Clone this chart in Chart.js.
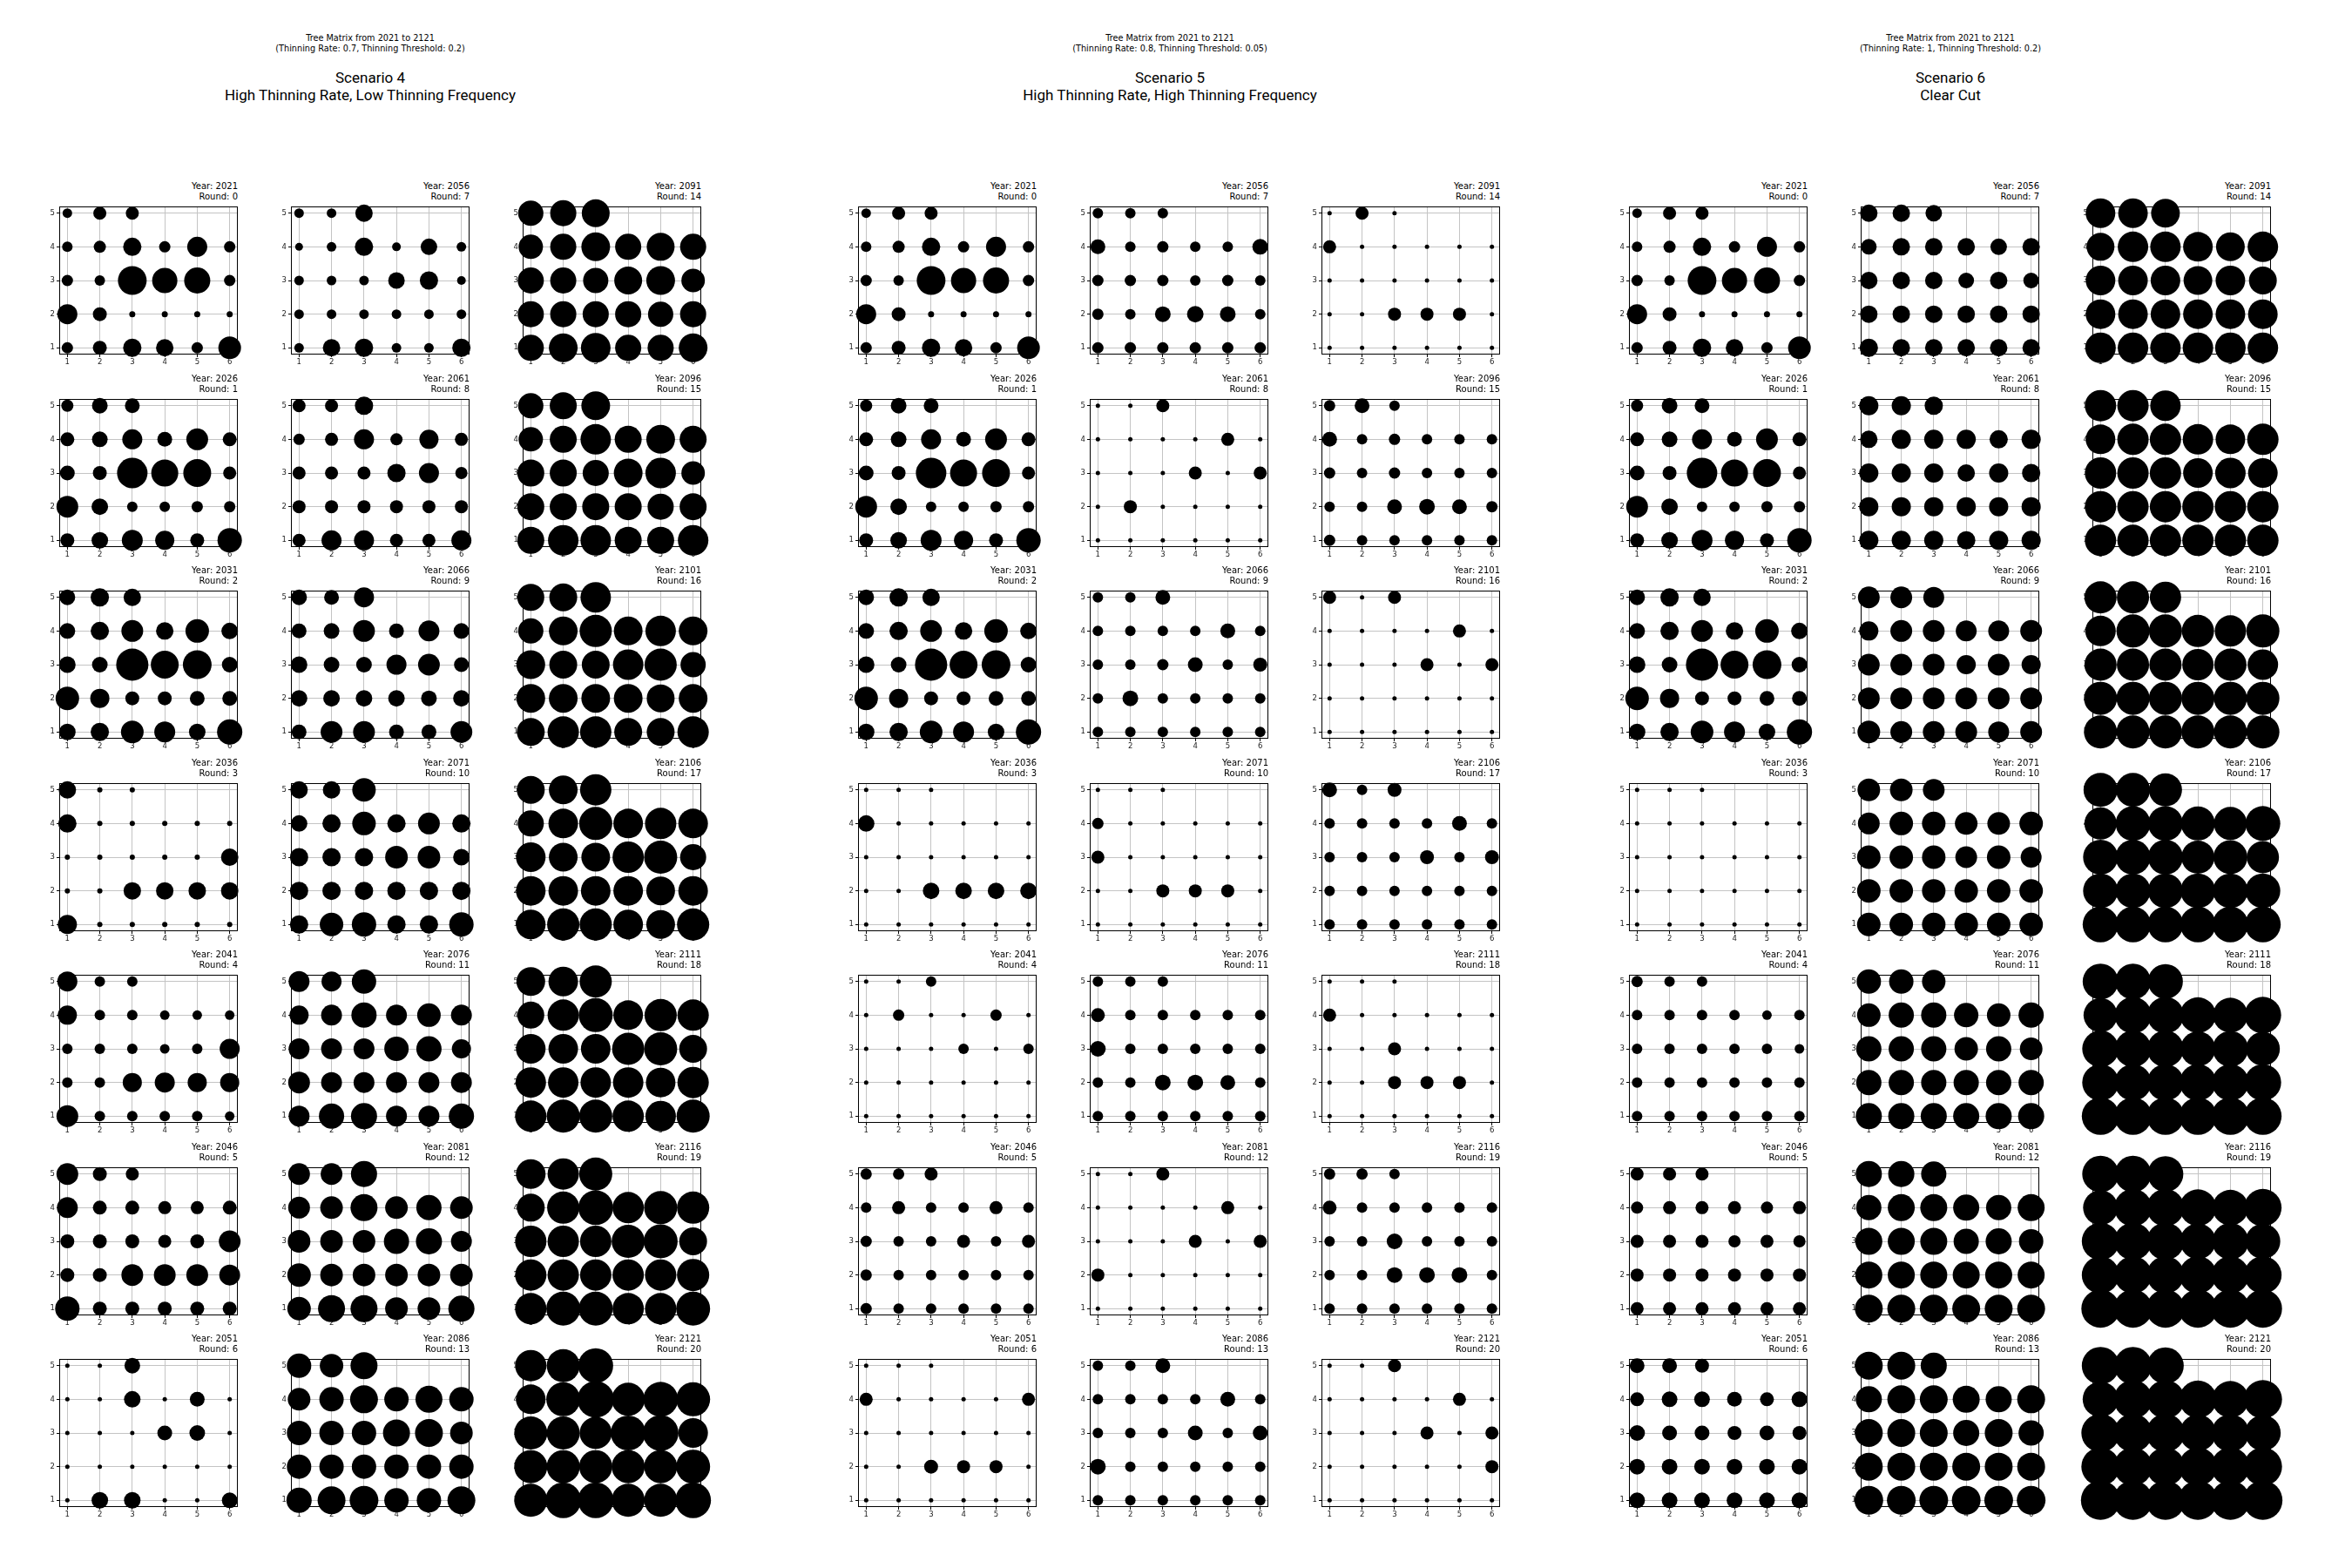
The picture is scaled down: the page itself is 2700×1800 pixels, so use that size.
<!DOCTYPE html>
<html>
<head>
<meta charset="utf-8">
<script src="https://cdn.jsdelivr.net/npm/chart.js@4.4.1/dist/chart.umd.min.js"></script>
<style>
html,body{margin:0;padding:0;background:#fff;}
#root{position:relative;width:2700px;height:1800px;overflow:hidden;background:#fff;}
.t{position:absolute;white-space:nowrap;color:#000;}
.sup{font-family:'DejaVu Sans',sans-serif;font-size:9.7px;line-height:11px;text-align:center;transform:translateX(-50%);}
.main{font-family:Roboto,sans-serif;font-size:17px;line-height:20px;text-align:center;transform:translateX(-50%);}
.sub{font-family:'DejaVu Sans',sans-serif;font-size:10px;line-height:12px;text-align:right;transform:translateX(-100%);}
canvas{position:absolute;}
</style>
</head>
<body>
<div id="root"></div>
<script>
// ---------- data ----------
const treeX = [1,2,3, 1,2,3,4,5,6, 1,2,3,4,5,6, 1,2,3,4,5,6, 1,2,3,4,5,6];
const treeY = [5,5,5, 4,4,4,4,4,4, 3,3,3,3,3,3, 2,2,2,2,2,2, 1,1,1,1,1,1];
const xTicks = [1,2,3,4,5,6];
const yTicks = [1,2,3,4,5];
const years  = [2021,2026,2031,2036,2041,2046,2051,2056,2061,2066,2071,2076,2081,2086,2091,2096,2101,2106,2111,2116,2121];
const rounds = [0,1,2,3,4,5,6,7,8,9,10,11,12,13,14,15,16,17,18,19,20];

const scenarioNames = ["Scenario 4","Scenario 5","Scenario 6"];
const scenarioDesc  = ["High Thinning Rate, Low Thinning Frequency","High Thinning Rate, High Thinning Frequency","Clear Cut"];
const scenarioParams = ["(Thinning Rate: 0.7, Thinning Threshold: 0.2)","(Thinning Rate: 0.8, Thinning Threshold: 0.05)","(Thinning Rate: 1, Thinning Threshold: 0.2)"];

// tree crown diameters per round (order: row5 x1-3, row4 x1-6, row3, row2, row1)
const scenario4 = [
 [11,15,15, 12,14,21,13,23,13, 13,12,33,29,30,13, 23,16,7,7,7,7, 13,16,21,20,13,26],
 [14,18,17, 16,18,23,17,25,16, 17,16,35,31,32,15, 25,19,12,12,13,13, 16,19,24,22,16,28],
 [18,21,20, 18,21,25,20,27,19, 19,18,37,32,33,18, 27,22,16,16,17,17, 19,21,26,24,19,29],
 [20,6,6, 21,6,6,6,6,6, 6,6,6,6,6,20, 6,6,20,20,20,20, 22,6,6,6,6,6],
 [23,12,12, 22,12,12,11,11,11, 12,12,12,11,12,23, 12,12,22,23,22,22, 25,12,12,12,12,11],
 [25,16,15, 24,16,16,15,15,16, 16,16,16,15,16,25, 16,16,25,25,25,24, 28,16,16,16,16,16],
 [5,5,18, 5,5,19,5,17,5, 5,5,5,17,18,5, 5,5,5,5,5,5, 5,19,19,5,5,18],
 [11,11,20, 9,11,21,10,19,11, 11,11,11,19,21,10, 11,11,11,11,11,11, 11,20,21,11,11,21],
 [15,15,21, 13,15,23,14,22,15, 15,15,15,21,23,14, 15,15,15,15,15,15, 15,23,23,15,15,23],
 [18,17,23, 17,18,25,17,24,18, 19,18,18,23,25,17, 19,19,19,19,18,19, 17,25,25,17,17,25],
 [20,20,27, 19,21,27,21,25,21, 21,21,21,26,26,19, 21,21,21,21,21,21, 21,27,28,21,21,28],
 [24,23,28, 22,24,29,24,27,24, 24,24,24,28,29,22, 25,24,24,24,24,24, 24,29,30,24,24,29],
 [25,25,30, 25,26,31,26,29,26, 26,26,26,29,30,24, 27,26,26,26,26,26, 27,31,31,26,26,30],
 [28,27,31, 26,28,32,28,31,28, 28,28,28,31,32,26, 28,28,28,28,28,28, 29,32,33,28,28,32],
 [29,30,32, 28,30,33,30,32,30, 30,30,29,32,33,27, 30,30,30,30,29,30, 30,33,34,30,30,33],
 [29,31,33, 28,31,35,31,33,31, 31,31,30,33,35,27, 31,31,31,31,30,31, 31,35,35,31,31,35],
 [31,32,35, 29,33,37,33,35,33, 33,32,32,35,37,29, 33,33,33,33,32,33, 32,36,36,32,32,36],
 [32,33,36, 30,34,38,34,36,34, 34,33,33,36,38,30, 34,34,34,34,33,34, 34,37,37,34,33,37],
 [33,34,37, 31,36,39,34,37,36, 34,34,34,37,38,32, 35,35,35,35,34,36, 36,38,38,36,35,38],
 [34,36,38, 32,37,40,36,38,37, 36,36,36,38,39,32, 36,36,36,36,36,37, 36,39,39,36,36,39],
 [36,38,40, 34,39,42,38,40,39, 38,38,37,40,41,34, 38,38,38,38,38,39, 38,41,41,38,38,41]
];
const scenario5 = [
 [11,15,15, 12,14,21,13,23,13, 13,12,33,29,30,13, 23,16,7,7,7,7, 13,16,21,20,13,26],
 [14,18,17, 16,18,23,17,25,16, 17,16,35,31,32,15, 25,19,12,12,13,13, 16,19,24,22,16,28],
 [18,21,20, 18,21,25,20,27,19, 19,18,37,32,33,18, 27,22,16,16,17,17, 19,21,26,24,19,29],
 [5,5,5, 19,5,5,5,5,5, 5,5,5,5,5,5, 5,5,19,19,19,19, 5,5,5,5,5,5],
 [5,5,12, 5,13,5,5,13,5, 5,5,5,12,5,12, 5,5,5,5,5,5, 5,5,5,5,5,5],
 [13,13,15, 12,15,12,12,15,12, 13,12,12,15,12,15, 13,12,12,12,12,12, 13,12,12,12,12,12],
 [5,5,5, 15,5,5,5,5,15, 5,5,5,5,5,5, 5,5,16,15,15,5, 5,5,5,5,5,5],
 [12,12,12, 17,12,13,12,12,18, 13,13,13,12,13,12, 13,12,18,19,18,12, 13,13,13,13,13,13],
 [5,5,15, 5,5,5,5,15,5, 5,5,5,15,5,15, 5,15,5,5,5,5, 5,5,5,5,5,5],
 [12,12,17, 12,12,12,12,17,12, 12,12,13,17,12,16, 12,18,12,12,12,12, 12,12,12,12,12,12],
 [5,5,5, 13,5,5,5,5,5, 15,5,5,5,5,5, 5,5,15,15,15,5, 5,5,5,5,5,5],
 [12,12,12, 16,12,12,12,12,12, 18,12,12,12,12,12, 12,12,18,18,17,12, 12,12,12,12,12,12],
 [5,5,15, 5,5,5,5,15,5, 5,5,5,15,5,15, 15,5,5,5,5,5, 5,5,5,5,5,5],
 [12,12,17, 12,12,12,12,17,12, 12,12,12,17,12,17, 18,12,12,12,12,12, 12,12,12,12,12,12],
 [5,15,5, 15,5,5,5,5,5, 5,5,5,5,5,5, 5,5,15,15,15,5, 5,5,5,5,5,5],
 [13,17,12, 17,12,13,12,12,12, 13,12,13,12,12,12, 12,12,17,18,17,13, 13,12,12,12,12,12],
 [15,5,15, 5,5,5,5,15,5, 5,5,5,15,5,15, 5,5,5,5,5,5, 5,5,5,5,5,5],
 [17,12,16, 12,12,12,12,17,12, 12,12,12,16,12,16, 12,12,12,12,12,12, 12,12,12,12,12,12],
 [5,5,5, 15,5,5,5,5,5, 5,5,15,5,5,5, 5,5,15,15,15,5, 5,5,5,5,5,5],
 [13,13,12, 16,12,12,12,12,12, 12,12,18,12,12,12, 12,12,18,18,18,12, 12,12,12,12,12,12],
 [5,5,15, 5,5,5,5,15,5, 5,5,5,15,5,15, 5,5,5,5,5,15, 5,5,5,5,5,5]
];
const scenario6 = [
 [11,15,15, 12,14,21,13,23,13, 13,12,33,29,30,13, 23,16,7,7,7,7, 13,16,21,20,13,26],
 [14,18,17, 16,18,23,17,25,16, 17,16,35,31,32,15, 25,19,12,12,13,13, 16,19,24,22,16,28],
 [18,21,20, 18,21,25,20,27,19, 19,18,37,32,33,18, 27,22,16,16,17,17, 19,21,26,24,19,29],
 [5,5,5, 5,5,5,5,5,5, 5,5,5,5,5,5, 5,5,5,5,5,5, 5,5,5,5,5,5],
 [13,12,12, 12,12,12,12,11,12, 12,12,12,12,12,11, 12,12,12,12,12,12, 12,12,12,12,12,12],
 [15,15,15, 14,15,15,15,14,15, 15,15,15,14,15,14, 15,15,15,15,15,15, 15,15,15,15,15,15],
 [17,17,16, 16,18,18,17,16,18, 18,17,17,16,17,16, 18,18,18,18,18,18, 18,18,18,18,18,18],
 [20,20,19, 18,20,20,20,19,20, 20,20,20,18,20,18, 20,20,20,20,20,20, 21,20,20,20,20,20],
 [22,22,21, 20,22,22,22,21,22, 22,22,22,20,22,21, 22,22,22,22,22,22, 22,22,22,21,22,22],
 [25,25,24, 22,25,25,24,24,25, 25,25,25,22,25,22, 25,25,25,25,25,25, 26,25,25,25,24,25],
 [26,26,25, 25,27,27,26,26,27, 27,27,27,25,27,24, 27,27,27,27,27,27, 27,27,27,27,27,27],
 [28,28,27, 27,29,29,28,27,29, 29,29,29,27,29,26, 29,29,29,29,29,29, 30,30,30,30,30,30],
 [30,30,29, 29,31,31,30,29,31, 31,31,31,29,30,28, 31,31,31,31,31,31, 32,32,32,32,32,32],
 [32,32,30, 30,32,32,31,30,32, 32,32,32,30,32,29, 32,32,32,32,32,32, 33,33,33,33,33,33],
 [34,34,33, 32,35,35,34,33,35, 34,34,34,33,34,32, 34,34,34,34,34,34, 35,35,35,35,35,35],
 [36,36,35, 34,36,36,35,34,36, 36,36,36,34,35,34, 36,36,36,36,36,36, 36,36,36,36,36,36],
 [37,37,36, 35,38,38,37,36,38, 37,37,37,36,37,35, 38,38,38,38,38,38, 38,38,38,38,38,38],
 [39,39,38, 37,40,40,39,38,40, 40,40,40,38,39,37, 40,40,40,40,40,40, 41,41,41,41,41,41],
 [41,41,40, 39,42,42,41,40,42, 42,42,42,40,41,39, 42,42,42,42,42,42, 43,43,43,43,43,43],
 [42,42,41, 40,43,43,42,41,43, 43,43,43,41,42,40, 43,43,43,43,43,43, 44,44,44,44,44,44],
 [43,43,42, 41,44,44,43,42,44, 44,44,44,42,43,41, 44,44,44,44,44,44, 45,45,45,45,45,45]
];
const scenarios = [scenario4, scenario5, scenario6];

// ---------- layout ----------
const panelX = [0, 917, 1802];
const colX = [68, 334, 600];
const rowTop0 = 237, rowPitch = 220.5;
const plotW = 205, plotH = 170;
const titleCX = [425, 1343, 2239];
const PAD = {left: 40, top: 30, right: 30, bottom: 30};
const SIZE_SCALE = 1.0;

const root = document.getElementById('root');
function addText(cls, txt, x, y) {
  const d = document.createElement('div');
  d.className = 't ' + cls;
  d.textContent = txt;
  d.style.left = x + 'px';
  d.style.top = y + 'px';
  root.appendChild(d);
  return d;
}

const framePlugin = {
  id: 'frame',
  afterDraw(chart) {
    const a = chart.chartArea, c = chart.ctx;
    c.save();
    c.strokeStyle = '#000';
    c.lineWidth = 1;
    c.strokeRect(Math.round(a.left) + 0.5, Math.round(a.top) + 0.5, Math.round(a.right - a.left) - 1, Math.round(a.bottom - a.top) - 1);
    c.restore();
  }
};

function axisOpts(min, max, ticks, isX) {
  return {
    type: 'linear', min: min, max: max, z: 1,
    afterBuildTicks: s => { s.ticks = ticks.map(v => ({value: v})); },
    afterFit: s => { if (isX) s.height = 16; else s.width = 14; },
    grid: {color: '#c4c4c4', lineWidth: 1, drawTicks: true, tickLength: 3, tickColor: '#000', tickWidth: 1},
    border: {display: false},
    ticks: {font: {family: 'DejaVu Sans', size: 8.5}, color: '#222', padding: isX ? 1 : 2, maxRotation: 0, autoSkip: false}
  };
}

scenarios.forEach((scen, si) => {
  addText('sup', 'Tree Matrix from 2021 to 2121', titleCX[si], 38);
  addText('sup', scenarioParams[si], titleCX[si], 49.5);
  addText('main', scenarioNames[si], titleCX[si], 79);
  addText('main', scenarioDesc[si], titleCX[si], 99);
  scen.forEach((sizes, ri) => {
    const col = Math.floor(ri / 7), row = ri % 7;
    const left = panelX[si] + colX[col];
    const top = Math.round(rowTop0 + row * rowPitch);
    addText('sub', 'Year: ' + years[ri], left + plotW, top - 29);
    addText('sub', 'Round: ' + rounds[ri], left + plotW, top - 17.5);
    const cv = document.createElement('canvas');
    const W = plotW + PAD.left + PAD.right, H = plotH + PAD.top + PAD.bottom;
    cv.width = W; cv.height = H;
    cv.style.width = W + 'px'; cv.style.height = H + 'px';
    cv.style.left = (left - PAD.left) + 'px';
    cv.style.top = (top - PAD.top) + 'px';
    root.appendChild(cv);
    new Chart(cv, {
      type: 'bubble',
      data: {datasets: [{
        data: treeX.map((x, i) => ({x: x, y: treeY[i], r: sizes[i] * SIZE_SCALE / 2})),
        backgroundColor: '#000', borderWidth: 0, hoverRadius: 0, clip: false
      }]},
      options: {
        responsive: false, animation: false, events: [], devicePixelRatio: 1,
        layout: {padding: {left: PAD.left - 14, top: PAD.top, right: PAD.right, bottom: PAD.bottom - 16}},
        plugins: {legend: {display: false}, tooltip: {enabled: false}, title: {display: false}},
        scales: {x: axisOpts(0.75, 6.25, xTicks, true), y: axisOpts(0.8, 5.2, yTicks, false)}
      },
      plugins: [framePlugin]
    });
  });
});
</script>
</body>
</html>
